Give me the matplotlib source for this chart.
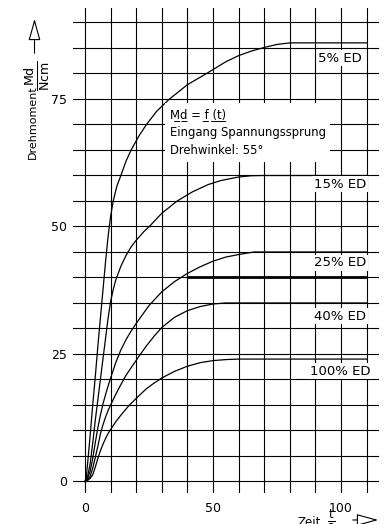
import numpy as np
import matplotlib
matplotlib.use('Agg')
import matplotlib.pyplot as plt
from matplotlib.patches import FancyArrowPatch

W, H = 389, 524
plt.rcParams['font.family'] = ['DejaVu Sans']
plt.rcParams['mathtext.default'] = 'regular'

# ---- data (time in s, torque in Ncm) ----
t5 = [0, 0.5, 1, 2, 3, 4, 5, 6, 7, 8, 9, 10, 11, 12.5, 14, 16, 18, 21, 24, 28, 33, 40, 47.5, 55, 60, 65, 70, 75, 80, 110]
m5 = [0, 1, 3.5, 9, 15, 20.5, 26.5, 32, 37.5, 43, 48, 52, 55, 58, 60, 62.8, 65, 67.7, 70, 72.6, 75, 77.8, 80, 82.3, 83.5, 84.4, 85.1, 85.7, 86, 86]

t15 = [0, 1, 2, 3, 4, 5, 6, 7, 8, 9, 10, 11, 12, 14, 16, 18, 20, 23, 25.5, 30, 36, 42, 48, 53, 60, 65, 70, 110]
m15 = [0, 1, 3.5, 7.5, 12, 16, 20, 24, 28, 32, 35.3, 37.6, 39.5, 42.2, 44.3, 46, 47.3, 49, 50.2, 52.6, 55, 56.8, 58.2, 59, 59.7, 59.95, 60, 60]

t25 = [0, 1, 2, 3, 4, 5, 6, 7, 8, 9, 10, 12, 14, 16, 18, 20, 25, 30, 35, 40, 45, 50, 55, 60, 66, 110]
m25 = [0, 0.6, 2.0, 4.5, 7.6, 10.5, 13, 15.2, 17.0, 18.7, 20.3, 23.3, 25.8, 27.8, 29.5, 31, 34.5, 37.2, 39.2, 40.8, 42.1, 43.2, 44, 44.5, 45, 45]

t40 = [0, 1, 2, 3, 4, 5, 6, 7, 8, 9, 10, 12, 14, 16, 18, 21, 24, 27, 30, 35, 40, 45, 50, 55, 58, 110]
m40 = [0, 0.3, 1.0, 2.6, 4.7, 6.9, 9.3, 11.1, 12.6, 13.9, 15, 17.1, 19, 20.8, 22.3, 24.5, 26.6, 28.5, 30.2, 32.2, 33.5, 34.3, 34.8, 35, 35, 35]

t100 = [0, 1, 2, 3, 4, 5, 6, 7, 8, 9, 10, 12, 14, 17, 20, 24, 27, 30, 35, 40, 45, 50, 55, 60, 110]
m100 = [0, 0.2, 0.6, 1.3, 2.8, 4.5, 6.0, 7.3, 8.4, 9.4, 10.2, 11.7, 13, 14.8, 16.3, 18.2, 19.3, 20.3, 21.6, 22.6, 23.3, 23.7, 23.9, 24, 24]

bold_t = [40, 110]
bold_m = [40, 40]

ed_labels = ['5% ED', '15% ED', '25% ED', '40% ED', '100% ED']
ed_label_y = [83.0, 58.3, 42.9, 32.4, 21.6]
ed_label_x = 99.6

x_grid = np.arange(0, 111, 10)
y_grid = np.arange(0, 91, 5)
x_tick_labels = {0: '0', 50: '50', 100: '100'}
y_tick_labels = {0: '0', 25: '25', 50: '50', 75: '75'}

note_lines = [r'$\underline{Md}$ = $\underline{f}$ $\underline{(t)}$',
              'Eingang Spannungssprung',
              'Drehwinkel: 55°']
note_fallback = 'M\u0332d\u0332 = f\u0332 (\u0332t\u0332)\u0332'

# ---- figure ----
fig = plt.figure(figsize=(W / 100, H / 100), dpi=100)
ax = fig.add_axes([73 / W, (H - 493.2) / H, (379.4 - 73) / W, (493.2 - 7.7) / H])
ax.set_xlim(-4.7, 115)
ax.set_ylim(-2.3, 92.9)
ax.set_xticks(x_grid)
ax.set_xticklabels([x_tick_labels.get(int(v), '') for v in x_grid])
ax.set_yticks(y_grid)
ax.set_yticklabels([y_tick_labels.get(int(v), '') for v in y_grid])
ax.grid(True, color='black', lw=0.8)
ax.set_axisbelow(True)
for s in ax.spines.values():
    s.set_visible(False)
ax.tick_params(axis='both', length=0, labelsize=9)
ax.tick_params(axis='x', pad=6)
ax.tick_params(axis='y', pad=4)

for t, m in [(t5, m5), (t15, m15), (t25, m25), (t40, m40), (t100, m100)]:
    ax.plot(t, m, color='black', lw=0.9, zorder=3)
ax.plot(bold_t, bold_m, color='black', lw=2.0, zorder=3, solid_capstyle='butt')

for lab, ly in zip(ed_labels, ed_label_y):
    ax.text(ed_label_x, ly, lab, ha='center', va='center', fontsize=9.5, zorder=5,
            bbox=dict(boxstyle='square,pad=0.12', fc='white', ec='none'))

note = ax.text(33.0, 68.4, '\n'.join(note_lines), ha='left', va='center', fontsize=8.4,
               linespacing=1.5, zorder=5,
               bbox=dict(boxstyle='square,pad=0.4', fc='white', ec='none'))


def px(x, y):
    return (x / W, 1 - y / H)


# y axis label
fig.text(*px(33, 122), 'Drehmoment', rotation=90, ha='center', va='center', fontsize=8)
fig.text(*px(38, 76), r'$\frac{Md}{Ncm}$', rotation=90, ha='center', va='center', fontsize=13)
arr = FancyArrowPatch(px(34.5, 56), px(34.5, 16), transform=fig.transFigure,
                      arrowstyle='-|>,head_length=0.9,head_width=0.25', mutation_scale=15,
                      fc='white', ec='black', lw=0.8)
fig.add_artist(arr)

# x axis label
fig.text(*px(309, 523), 'Zeit', ha='center', va='center', fontsize=8.5)
fig.text(*px(331, 520), r'$\frac{t}{s}$', ha='center', va='center', fontsize=12)
arr2 = FancyArrowPatch(px(350, 520), px(381, 520), transform=fig.transFigure,
                       arrowstyle='-|>,head_length=0.9,head_width=0.25', mutation_scale=15,
                       fc='white', ec='black', lw=0.8)
fig.add_artist(arr2)

try:
    fig.canvas.draw()
except Exception:
    note.set_text('\n'.join([note_fallback] + note_lines[1:]))

fig.savefig('out.png', dpi=100)
